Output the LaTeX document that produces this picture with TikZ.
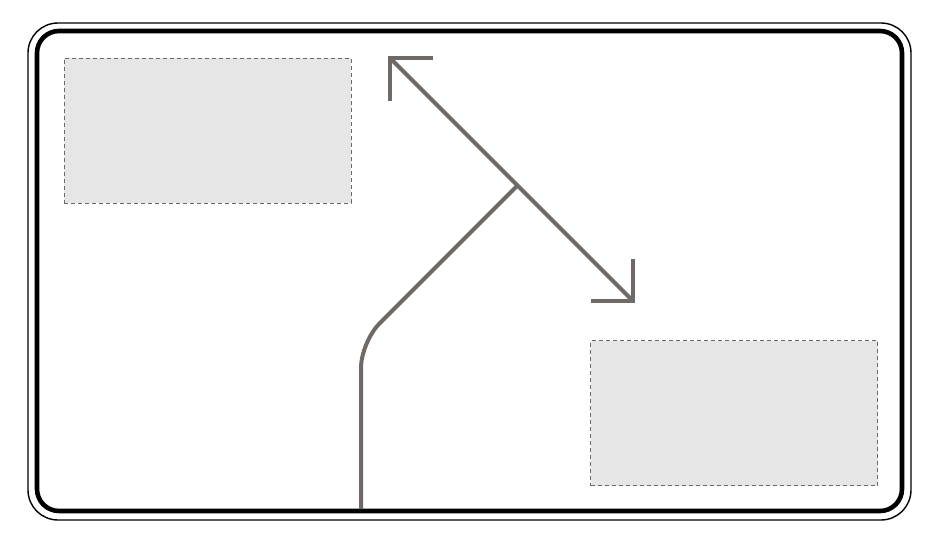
\documentclass[tikz,border=0pt]{standalone}
\begin{document}
\begin{tikzpicture}[x=1pt,y=-1pt,
  road/.style={draw=roadgray,line width=4pt},
  panel/.style={draw=dashgray,dash pattern=on 4pt off 3pt,line width=1pt,fill=panelgray,minimum width=287pt,minimum height=145pt,inner sep=0pt}]
\definecolor{roadgray}{RGB}{112,106,102}
\definecolor{dashgray}{RGB}{105,105,105}
\definecolor{panelgray}{RGB}{230,230,230}
\useasboundingbox (0,0) rectangle (930,541);
% sign borders
\draw[line width=1.4pt,rounded corners=30pt] (28,23) rectangle (911,520);
\draw[line width=4.6pt,rounded corners=22pt] (37,31) rectangle (902,511);
% panels
\node[panel] (p1) at (207.5,130.5) {};
\node[panel] (p2) at (734,413) {};
% arrow geometry
\coordinate (tl) at (390,58);
\coordinate (br) at (633,301);
\coordinate (fork) at (517,186);
\coordinate (bend) at (361,342);
\coordinate (base) at (361,509);
\draw[road] (tl) -- (br);
\draw[road,miter limit=10] (433,58) -- (tl) -- (390,101);
\draw[road,miter limit=10] (591,301) -- (br) -- (633,259);
\draw[road,rounded corners=26pt] (fork) -- (bend) -- (base);
\end{tikzpicture}
\end{document}
